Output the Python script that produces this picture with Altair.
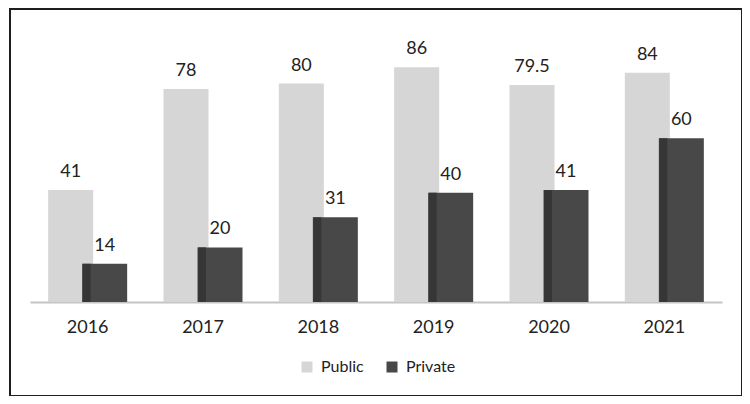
import altair as alt
import pandas as pd

years = ["2016", "2017", "2018", "2019", "2020", "2021"]
public = [41, 78, 80, 86, 79.5, 84]
private = [14, 20, 31, 40, 41, 60]
series = ["Public", "Private"]
colors = ["#d6d6d6", "#484848"]

rows = []
for y, pu, pr in zip(years, public, private):
    rows.append({"year": y, "sector": "Public", "value": pu, "label": f"{pu:g}"})
    rows.append({"year": y, "sector": "Private", "value": pr, "label": f"{pr:g}"})
df = pd.DataFrame(rows)

FONT = "Lato"
FS = 18

x_enc = alt.X("year:N", sort=years, title=None,
              axis=alt.Axis(labelAngle=0, ticks=False, tickSize=0, labelPadding=16,
                            labelFontSize=FS, labelFont=FONT, labelColor="#222222",
                            domainColor="#c4c4c4", domainWidth=2),
              scale=alt.Scale(paddingInner=0, paddingOuter=0))
y_enc = alt.Y("value:Q", scale=alt.Scale(domain=[0, 100], nice=False), axis=None)
color_enc = alt.Color("sector:N", scale=alt.Scale(domain=series, range=colors),
                      legend=alt.Legend(title=None, orient="none", direction="horizontal",
                                        legendX=269, legendY=330, symbolType="square",
                                        symbolSize=121, symbolStrokeWidth=0,
                                        labelFontSize=16, labelFont=FONT, labelColor="#222222",
                                        columnPadding=20, symbolOffset=0, labelOffset=6))

base = alt.Chart(df)

pub_bar = base.transform_filter("datum.sector == 'Public'").mark_bar(width=45, xOffset=-17).encode(
    x=x_enc, y=y_enc, color=color_enc)
priv_bar = base.transform_filter("datum.sector == 'Private'").mark_bar(width=45, xOffset=17).encode(
    x=x_enc, y=y_enc, color=color_enc)
priv_shade = base.transform_filter("datum.sector == 'Private'").mark_bar(
    width=8, xOffset=-1, color="#363636").encode(x=x_enc, y=y_enc)

pub_lbl = base.transform_filter("datum.sector == 'Public'").mark_text(
    xOffset=-17, dy=-18, baseline="middle", fontSize=FS, font=FONT, color="#222222").encode(
    x=x_enc, y=y_enc, text="label:N")
priv_lbl = base.transform_filter("datum.sector == 'Private'").mark_text(
    xOffset=17, dy=-18, baseline="middle", fontSize=FS, font=FONT, color="#222222").encode(
    x=x_enc, y=y_enc, text="label:N")

frame = alt.Chart(alt.Data(values=[{}])).mark_rect(
    filled=False, stroke="#1e1e1e", strokeWidth=2, clip=False).encode(
    x=alt.value(-20), x2=alt.value(712), y=alt.value(-20), y2=alt.value(367))

chart = alt.layer(pub_bar, priv_bar, priv_shade, pub_lbl, priv_lbl, frame).properties(
    width=692, height=273,
    padding={"left": 22, "top": 21, "right": 20, "bottom": 94},
    autosize=alt.AutoSizeParams(type="none"),
    background="white",
).configure_view(stroke=None)

chart.save("out.html", embed_options={"renderer": "svg", "actions": False})
